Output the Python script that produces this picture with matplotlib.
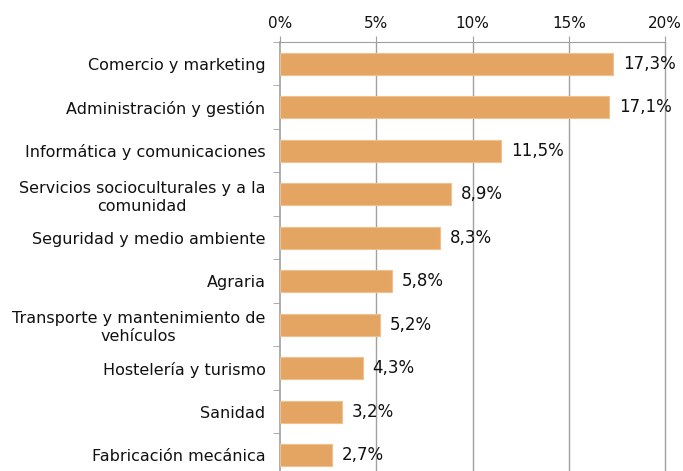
import matplotlib.pyplot as plt
import numpy as np

categories = ['Comercio y marketing', 'Administración y gestión',
              'Informática y comunicaciones',
              'Servicios socioculturales y a la\ncomunidad',
              'Seguridad y medio ambiente', 'Agraria',
              'Transporte y mantenimiento de\nvehículos',
              'Hostelería y turismo', 'Sanidad', 'Fabricación mecánica']
values = [17.3, 17.1, 11.5, 8.9, 8.3, 5.8, 5.2, 4.3, 3.2, 2.7]
labels = ['17,3%', '17,1%', '11,5%', '8,9%', '8,3%', '5,8%', '5,2%', '4,3%', '3,2%', '2,7%']

plt.rcParams['font.family'] = ['DejaVu Sans']
fig = plt.figure(figsize=(6.83, 4.71), dpi=100)
ax = fig.add_axes([280/683, -6/471, 385/683, 435/471])

y = np.arange(len(categories))
ax.barh(y, values, height=0.5, color='#E4A562', edgecolor='#F0C08E', linewidth=0.8, zorder=3)

# etiquetas de valor
for yi, v, lab in zip(y, values, labels):
    ax.text(v + 0.5, yi, lab, va='center', ha='left', fontsize=12, color='#111111')

ax.set_xlim(0, 20)
ax.set_ylim(len(categories) - 0.5, -0.5)
ax.xaxis.tick_top()
ax.set_xticks([0, 5, 10, 15, 20])
ax.set_xticklabels(['0%', '5%', '10%', '15%', '20%'], fontsize=11, color='#111111')
ax.tick_params(axis='x', length=4, color='#A0A0A0', pad=4)

ax.set_yticks(y)
ax.set_yticklabels(categories, fontsize=11.5, ha='right', multialignment='center',
                   linespacing=1.25, color='#111111')
ax.tick_params(axis='y', length=0, pad=10.5)
ax.set_yticks(np.arange(-0.5, len(categories), 1), minor=True)
ax.tick_params(axis='y', which='minor', length=5, color='#A0A0A0')

for xv in [5, 10, 15, 20]:
    ax.axvline(xv, color='#A0A0A0', linewidth=1, zorder=0, clip_on=False)
for s in ['right', 'bottom']:
    ax.spines[s].set_visible(False)
ax.spines['top'].set_color('#A0A0A0')
ax.spines['left'].set_color('#A0A0A0')
ax.spines['left'].set_linewidth(1.2)

fig.savefig('out.png', dpi=100)
